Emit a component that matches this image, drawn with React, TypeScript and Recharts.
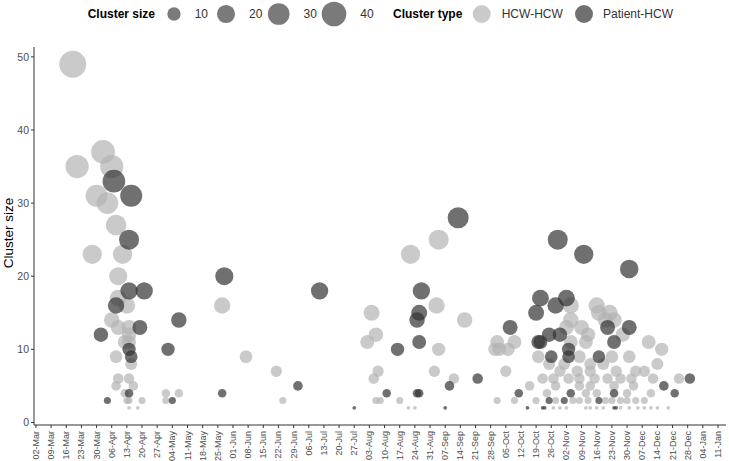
import React from "react";
import { ScatterChart, Scatter, XAxis, YAxis } from "recharts";

// days counted from 02-Mar-2020, one tick per week
const weekLabels = [
  "02-Mar", "09-Mar", "16-Mar", "23-Mar", "30-Mar", "06-Apr", "13-Apr", "20-Apr",
  "27-Apr", "04-May", "11-May", "18-May", "25-May", "01-Jun", "08-Jun", "15-Jun",
  "22-Jun", "29-Jun", "06-Jul", "13-Jul", "20-Jul", "27-Jul", "03-Aug", "10-Aug",
  "17-Aug", "24-Aug", "31-Aug", "07-Sep", "14-Sep", "21-Sep", "28-Sep", "05-Oct",
  "12-Oct", "19-Oct", "26-Oct", "02-Nov", "09-Nov", "16-Nov", "23-Nov", "30-Nov",
  "07-Dec", "14-Dec", "21-Dec", "28-Dec", "04-Jan", "11-Jan",
];
const yTicks = [0, 10, 20, 30, 40, 50];
const sizeLegend = [10, 20, 30, 40];

// [day, cluster size]
const hcwHcw: [number, number][] = [
  [17, 49], [19, 35], [26, 23], [28, 31], [31, 37], [33, 30], [35, 35], [37, 27],
  [40, 23], [38, 20], [38, 17], [42, 16], [35, 14], [38, 13], [43, 13], [43, 12],
  [41, 11], [43, 11], [37, 9], [44, 8], [38, 6], [43, 6], [37, 5], [45, 5],
  [41, 4], [60, 4], [66, 4], [42, 3], [43, 3], [49, 3], [60, 3], [43, 2], [47, 2],
  [86, 16], [97, 9], [111, 7], [114, 3],
  [155, 15], [153, 11], [157, 12], [158, 7], [156, 6], [157, 3], [159, 3], [168, 3],
  [172, 2], [175, 2], [173, 23], [186, 25], [185, 16], [186, 10], [184, 7], [193, 6],
  [198, 14], [213, 11], [212, 10], [214, 10], [218, 10], [221, 11], [217, 7], [213, 3],
  [221, 3], [228, 5],
  [247, 16], [259, 16], [265, 15], [260, 15], [267, 14], [247, 14], [263, 14], [245, 13],
  [252, 13], [255, 12], [271, 12], [247, 11], [254, 11], [283, 11], [289, 10], [232, 9],
  [251, 9], [266, 9], [274, 9], [237, 8], [244, 8], [256, 8], [262, 8], [287, 8],
  [242, 7], [250, 7], [256, 7], [268, 7], [277, 7], [281, 7], [234, 6], [239, 6],
  [246, 6], [251, 6], [258, 6], [264, 6], [270, 6], [275, 6], [285, 6], [297, 6],
  [240, 5], [251, 5], [256, 5], [267, 5], [276, 5], [236, 4], [254, 4], [259, 4],
  [273, 4], [284, 4], [231, 3], [240, 3], [248, 3], [251, 3], [255, 3], [263, 3],
  [266, 3], [270, 3], [273, 3], [277, 3], [281, 3], [239, 2], [242, 2], [245, 2],
  [254, 2], [256, 2], [259, 2], [262, 2], [270, 2], [274, 2], [278, 2], [281, 2],
  [284, 2], [287, 2], [292, 2],
];

const patientHcw: [number, number][] = [
  [36, 33], [44, 31], [43, 25], [43, 18], [50, 18], [37, 16], [48, 13], [30, 12],
  [43, 10], [44, 9], [43, 4], [33, 3], [66, 14], [61, 10], [63, 3], [87, 20], [86, 4],
  [121, 5], [131, 18],
  [147, 2], [162, 4], [167, 10], [178, 18], [177, 15], [176, 14], [177, 11], [176, 4],
  [177, 4], [191, 5], [189, 2], [195, 28], [204, 6],
  [219, 13], [223, 4], [227, 2], [231, 15], [241, 25], [253, 23], [274, 21], [233, 17],
  [245, 17], [240, 16], [264, 13], [274, 13], [237, 12], [242, 12], [232, 11], [233, 11],
  [267, 11], [246, 10], [238, 9], [246, 9], [260, 9], [290, 5], [247, 4], [267, 4],
  [295, 4], [302, 6], [237, 3], [244, 3], [260, 3], [234, 2], [235, 2], [267, 2],
  [268, 2],
];

const toRows = (pts: [number, number][]) => pts.map(([day, size]) => ({ day, size }));

// ggplot-like size scale (area grows with sqrt of rescaled value)
const radius = (v: number) =>
  (4.66 * (1 + 5 * Math.sqrt(Math.max(v - 2, 0) / 47)) - 0.96) / 2;

const LIGHT = "#b3b3b3";
const DARK = "#333333";
const font = "'Liberation Sans', Arial, sans-serif";

const bubble = (color: string) => (props: any) => (
  <circle
    cx={props.cx}
    cy={props.cy}
    r={radius(props.payload.size)}
    fill={color}
    fillOpacity={0.7}
  />
);

const XTick = (props: any) => {
  const { x, y, payload } = props;
  return (
    <text
      transform={`translate(${x},${y}) rotate(-90)`}
      textAnchor="end"
      dominantBaseline="central"
      fontSize={9}
      fill="#4d4d4d"
      fontFamily={font}
    >
      {weekLabels[Math.round(payload.value / 7)]}
    </text>
  );
};

export default function App() {
  const sizeX = [174, 226, 278.7, 334];
  return (
    <div
      style={{
        position: "absolute",
        left: 0,
        top: 0,
        width: 729,
        height: 461,
        background: "#fff",
        fontFamily: font,
      }}
    >
      <ScatterChart
        width={729}
        height={461}
        margin={{ top: 47, right: 3, bottom: 0, left: 0 }}
      >
        <XAxis
          type="number"
          dataKey="day"
          domain={[-0.9, 318.7]}
          ticks={weekLabels.map((_, i) => i * 7)}
          interval={0}
          height={36}
          tick={<XTick />}
          tickSize={3}
          tickMargin={3}
          stroke="#333"
          allowDataOverflow
        />
        <YAxis
          type="number"
          dataKey="size"
          domain={[-0.35, 51.35]}
          ticks={yTicks}
          width={34}
          tickSize={3}
          tickMargin={2}
          stroke="#333"
          tick={{ fontSize: 10.5, fill: "#4d4d4d", fontFamily: font }}
          allowDataOverflow
        />
        <Scatter
          data={toRows(hcwHcw)}
          shape={bubble(LIGHT)}
          isAnimationActive={false}
        />
        <Scatter
          data={toRows(patientHcw)}
          shape={bubble(DARK)}
          isAnimationActive={false}
        />
      </ScatterChart>
      <svg
        width={729}
        height={461}
        style={{ position: "absolute", left: 0, top: 0, pointerEvents: "none" }}
      >
        <text
          transform="translate(13,233) rotate(-90)"
          textAnchor="middle"
          fontSize={13.5}
          fill="#000"
          fontFamily={font}
        >
          Cluster size
        </text>
        <g fontFamily={font} fontSize={12}>
          <text x={155} y={18} textAnchor="end" fontWeight="bold" fill="#000">
            Cluster size
          </text>
          {sizeLegend.map((v, i) => (
            <g key={v}>
              <circle cx={sizeX[i]} cy={14} r={radius(v)} fill={DARK} fillOpacity={0.65} />
              <text x={sizeX[i] + radius(v) + 14} y={18} fill="#333">
                {v}
              </text>
            </g>
          ))}
          <text x={393} y={18} fontWeight="bold" fill="#000">
            Cluster type
          </text>
          <circle cx={481.7} cy={14} r={9} fill={LIGHT} fillOpacity={0.7} />
          <text x={501.7} y={18} fill="#333">
            HCW-HCW
          </text>
          <circle cx={584} cy={14} r={9} fill={DARK} fillOpacity={0.7} />
          <text x={603} y={18} fill="#333">
            Patient-HCW
          </text>
        </g>
      </svg>
    </div>
  );
}
